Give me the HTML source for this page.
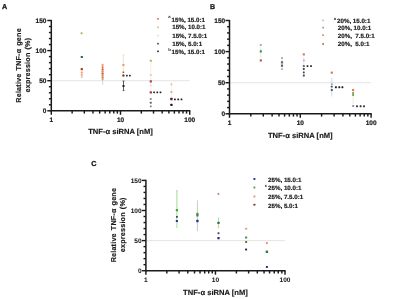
<!DOCTYPE html><html><head><meta charset='utf-8'><style>html,body{margin:0;padding:0;background:#fff;}svg{display:block;will-change:transform;}</style></head><body>
<svg width='400' height='299' viewBox='0 0 400 299' font-family='Liberation Sans, sans-serif' text-rendering='geometricPrecision'>
<rect width='400' height='299' fill='#fff'/>
<text x='2.0' y='9.2' font-size='7.2' font-weight='bold' fill='#1a1a1a' stroke='#1a1a1a' stroke-width='0.3'>A</text>
<text x='209.9' y='8.5' font-size='7.0' font-weight='bold' fill='#1a1a1a' stroke='#1a1a1a' stroke-width='0.3'>B</text>
<text x='91.3' y='165.9' font-size='7.2' font-weight='bold' fill='#1a1a1a' stroke='#1a1a1a' stroke-width='0.3'>C</text>
<line x1='52.3' y1='80.70' x2='189.70' y2='80.70' stroke='#e2e2e2' stroke-width='0.9'/>
<line x1='51.30' y1='19.90' x2='51.30' y2='111.40' stroke='#1a1a1a' stroke-width='1.5'/>
<line x1='47.30' y1='110.80' x2='51.30' y2='110.80' stroke='#1a1a1a' stroke-width='1.45'/>
<line x1='48.90' y1='104.78' x2='51.30' y2='104.78' stroke='#1a1a1a' stroke-width='1.45'/>
<line x1='48.90' y1='98.76' x2='51.30' y2='98.76' stroke='#1a1a1a' stroke-width='1.45'/>
<line x1='48.90' y1='92.74' x2='51.30' y2='92.74' stroke='#1a1a1a' stroke-width='1.45'/>
<line x1='48.90' y1='86.72' x2='51.30' y2='86.72' stroke='#1a1a1a' stroke-width='1.45'/>
<line x1='47.30' y1='80.70' x2='51.30' y2='80.70' stroke='#1a1a1a' stroke-width='1.45'/>
<line x1='48.90' y1='74.68' x2='51.30' y2='74.68' stroke='#1a1a1a' stroke-width='1.45'/>
<line x1='48.90' y1='68.66' x2='51.30' y2='68.66' stroke='#1a1a1a' stroke-width='1.45'/>
<line x1='48.90' y1='62.64' x2='51.30' y2='62.64' stroke='#1a1a1a' stroke-width='1.45'/>
<line x1='48.90' y1='56.62' x2='51.30' y2='56.62' stroke='#1a1a1a' stroke-width='1.45'/>
<line x1='47.30' y1='50.60' x2='51.30' y2='50.60' stroke='#1a1a1a' stroke-width='1.45'/>
<line x1='48.90' y1='44.58' x2='51.30' y2='44.58' stroke='#1a1a1a' stroke-width='1.45'/>
<line x1='48.90' y1='38.56' x2='51.30' y2='38.56' stroke='#1a1a1a' stroke-width='1.45'/>
<line x1='48.90' y1='32.54' x2='51.30' y2='32.54' stroke='#1a1a1a' stroke-width='1.45'/>
<line x1='48.90' y1='26.52' x2='51.30' y2='26.52' stroke='#1a1a1a' stroke-width='1.45'/>
<line x1='47.30' y1='20.50' x2='51.30' y2='20.50' stroke='#1a1a1a' stroke-width='1.45'/>
<text x='46.40' y='113.25' text-anchor='end' font-size='6.5' font-weight='bold' fill='#1a1a1a' stroke='#1a1a1a' stroke-width='0.2'>0</text>
<text x='46.40' y='83.15' text-anchor='end' font-size='6.5' font-weight='bold' fill='#1a1a1a' stroke='#1a1a1a' stroke-width='0.2'>50</text>
<text x='46.40' y='53.05' text-anchor='end' font-size='6.5' font-weight='bold' fill='#1a1a1a' stroke='#1a1a1a' stroke-width='0.2'>100</text>
<text x='46.40' y='22.95' text-anchor='end' font-size='6.5' font-weight='bold' fill='#1a1a1a' stroke='#1a1a1a' stroke-width='0.2'>150</text>
<line x1='50.70' y1='110.80' x2='190.30' y2='110.80' stroke='#1a1a1a' stroke-width='1.5'/>
<line x1='51.30' y1='110.80' x2='51.30' y2='114.80' stroke='#1a1a1a' stroke-width='1.45'/>
<line x1='72.13' y1='110.80' x2='72.13' y2='113.60' stroke='#1a1a1a' stroke-width='1.45'/>
<line x1='84.32' y1='110.80' x2='84.32' y2='113.60' stroke='#1a1a1a' stroke-width='1.45'/>
<line x1='92.96' y1='110.80' x2='92.96' y2='113.60' stroke='#1a1a1a' stroke-width='1.45'/>
<line x1='99.67' y1='110.80' x2='99.67' y2='113.60' stroke='#1a1a1a' stroke-width='1.45'/>
<line x1='105.15' y1='110.80' x2='105.15' y2='113.60' stroke='#1a1a1a' stroke-width='1.45'/>
<line x1='109.78' y1='110.80' x2='109.78' y2='113.60' stroke='#1a1a1a' stroke-width='1.45'/>
<line x1='113.79' y1='110.80' x2='113.79' y2='113.60' stroke='#1a1a1a' stroke-width='1.45'/>
<line x1='117.33' y1='110.80' x2='117.33' y2='113.60' stroke='#1a1a1a' stroke-width='1.45'/>
<line x1='120.50' y1='110.80' x2='120.50' y2='114.80' stroke='#1a1a1a' stroke-width='1.45'/>
<line x1='141.33' y1='110.80' x2='141.33' y2='113.60' stroke='#1a1a1a' stroke-width='1.45'/>
<line x1='153.52' y1='110.80' x2='153.52' y2='113.60' stroke='#1a1a1a' stroke-width='1.45'/>
<line x1='162.16' y1='110.80' x2='162.16' y2='113.60' stroke='#1a1a1a' stroke-width='1.45'/>
<line x1='168.87' y1='110.80' x2='168.87' y2='113.60' stroke='#1a1a1a' stroke-width='1.45'/>
<line x1='174.35' y1='110.80' x2='174.35' y2='113.60' stroke='#1a1a1a' stroke-width='1.45'/>
<line x1='178.98' y1='110.80' x2='178.98' y2='113.60' stroke='#1a1a1a' stroke-width='1.45'/>
<line x1='182.99' y1='110.80' x2='182.99' y2='113.60' stroke='#1a1a1a' stroke-width='1.45'/>
<line x1='186.53' y1='110.80' x2='186.53' y2='113.60' stroke='#1a1a1a' stroke-width='1.45'/>
<line x1='189.70' y1='110.80' x2='189.70' y2='114.80' stroke='#1a1a1a' stroke-width='1.45'/>
<text x='51.30' y='121.90' text-anchor='middle' font-size='6.5' font-weight='bold' fill='#1a1a1a' stroke='#1a1a1a' stroke-width='0.2'>1</text>
<text x='120.50' y='121.90' text-anchor='middle' font-size='6.5' font-weight='bold' fill='#1a1a1a' stroke='#1a1a1a' stroke-width='0.2'>10</text>
<text x='189.70' y='121.90' text-anchor='middle' font-size='6.5' font-weight='bold' fill='#1a1a1a' stroke='#1a1a1a' stroke-width='0.2'>100</text>
<text x='120.50' y='133.90' text-anchor='middle' font-size='7.6' font-weight='bold' fill='#1a1a1a' stroke='#1a1a1a' stroke-width='0.15'>TNF-α siRNA [nM]</text>
<text transform='translate(21.3,65.4) rotate(-90)' text-anchor='middle' font-size='7.2' letter-spacing='0.2' word-spacing='0.8' font-weight='bold' fill='#1a1a1a' stroke='#1a1a1a' stroke-width='0.18'>Relative TNF-α gene</text>
<text transform='translate(30.3,65.1) rotate(-90)' text-anchor='middle' font-size='7.2' letter-spacing='0.2' word-spacing='0.8' font-weight='bold' fill='#1a1a1a' stroke='#1a1a1a' stroke-width='0.18'>expression (%)</text>
<line x1='230.5' y1='82.70' x2='371.10' y2='82.70' stroke='#e2e2e2' stroke-width='0.9'/>
<line x1='229.50' y1='19.90' x2='229.50' y2='114.40' stroke='#1a1a1a' stroke-width='1.5'/>
<line x1='225.50' y1='113.80' x2='229.50' y2='113.80' stroke='#1a1a1a' stroke-width='1.45'/>
<line x1='227.10' y1='107.58' x2='229.50' y2='107.58' stroke='#1a1a1a' stroke-width='1.45'/>
<line x1='227.10' y1='101.36' x2='229.50' y2='101.36' stroke='#1a1a1a' stroke-width='1.45'/>
<line x1='227.10' y1='95.14' x2='229.50' y2='95.14' stroke='#1a1a1a' stroke-width='1.45'/>
<line x1='227.10' y1='88.92' x2='229.50' y2='88.92' stroke='#1a1a1a' stroke-width='1.45'/>
<line x1='225.50' y1='82.70' x2='229.50' y2='82.70' stroke='#1a1a1a' stroke-width='1.45'/>
<line x1='227.10' y1='76.48' x2='229.50' y2='76.48' stroke='#1a1a1a' stroke-width='1.45'/>
<line x1='227.10' y1='70.26' x2='229.50' y2='70.26' stroke='#1a1a1a' stroke-width='1.45'/>
<line x1='227.10' y1='64.04' x2='229.50' y2='64.04' stroke='#1a1a1a' stroke-width='1.45'/>
<line x1='227.10' y1='57.82' x2='229.50' y2='57.82' stroke='#1a1a1a' stroke-width='1.45'/>
<line x1='225.50' y1='51.60' x2='229.50' y2='51.60' stroke='#1a1a1a' stroke-width='1.45'/>
<line x1='227.10' y1='45.38' x2='229.50' y2='45.38' stroke='#1a1a1a' stroke-width='1.45'/>
<line x1='227.10' y1='39.16' x2='229.50' y2='39.16' stroke='#1a1a1a' stroke-width='1.45'/>
<line x1='227.10' y1='32.94' x2='229.50' y2='32.94' stroke='#1a1a1a' stroke-width='1.45'/>
<line x1='227.10' y1='26.72' x2='229.50' y2='26.72' stroke='#1a1a1a' stroke-width='1.45'/>
<line x1='225.50' y1='20.50' x2='229.50' y2='20.50' stroke='#1a1a1a' stroke-width='1.45'/>
<text x='225.20' y='116.25' text-anchor='end' font-size='6.5' font-weight='bold' fill='#1a1a1a' stroke='#1a1a1a' stroke-width='0.2'>0</text>
<text x='225.20' y='85.15' text-anchor='end' font-size='6.5' font-weight='bold' fill='#1a1a1a' stroke='#1a1a1a' stroke-width='0.2'>50</text>
<text x='225.20' y='54.05' text-anchor='end' font-size='6.5' font-weight='bold' fill='#1a1a1a' stroke='#1a1a1a' stroke-width='0.2'>100</text>
<text x='225.20' y='22.95' text-anchor='end' font-size='6.5' font-weight='bold' fill='#1a1a1a' stroke='#1a1a1a' stroke-width='0.2'>150</text>
<line x1='228.90' y1='113.80' x2='371.70' y2='113.80' stroke='#1a1a1a' stroke-width='1.5'/>
<line x1='229.50' y1='113.80' x2='229.50' y2='117.80' stroke='#1a1a1a' stroke-width='1.45'/>
<line x1='250.81' y1='113.80' x2='250.81' y2='116.60' stroke='#1a1a1a' stroke-width='1.45'/>
<line x1='263.28' y1='113.80' x2='263.28' y2='116.60' stroke='#1a1a1a' stroke-width='1.45'/>
<line x1='272.13' y1='113.80' x2='272.13' y2='116.60' stroke='#1a1a1a' stroke-width='1.45'/>
<line x1='278.99' y1='113.80' x2='278.99' y2='116.60' stroke='#1a1a1a' stroke-width='1.45'/>
<line x1='284.59' y1='113.80' x2='284.59' y2='116.60' stroke='#1a1a1a' stroke-width='1.45'/>
<line x1='289.33' y1='113.80' x2='289.33' y2='116.60' stroke='#1a1a1a' stroke-width='1.45'/>
<line x1='293.44' y1='113.80' x2='293.44' y2='116.60' stroke='#1a1a1a' stroke-width='1.45'/>
<line x1='297.06' y1='113.80' x2='297.06' y2='116.60' stroke='#1a1a1a' stroke-width='1.45'/>
<line x1='300.30' y1='113.80' x2='300.30' y2='117.80' stroke='#1a1a1a' stroke-width='1.45'/>
<line x1='321.61' y1='113.80' x2='321.61' y2='116.60' stroke='#1a1a1a' stroke-width='1.45'/>
<line x1='334.08' y1='113.80' x2='334.08' y2='116.60' stroke='#1a1a1a' stroke-width='1.45'/>
<line x1='342.93' y1='113.80' x2='342.93' y2='116.60' stroke='#1a1a1a' stroke-width='1.45'/>
<line x1='349.79' y1='113.80' x2='349.79' y2='116.60' stroke='#1a1a1a' stroke-width='1.45'/>
<line x1='355.39' y1='113.80' x2='355.39' y2='116.60' stroke='#1a1a1a' stroke-width='1.45'/>
<line x1='360.13' y1='113.80' x2='360.13' y2='116.60' stroke='#1a1a1a' stroke-width='1.45'/>
<line x1='364.24' y1='113.80' x2='364.24' y2='116.60' stroke='#1a1a1a' stroke-width='1.45'/>
<line x1='367.86' y1='113.80' x2='367.86' y2='116.60' stroke='#1a1a1a' stroke-width='1.45'/>
<line x1='371.10' y1='113.80' x2='371.10' y2='117.80' stroke='#1a1a1a' stroke-width='1.45'/>
<text x='229.50' y='125.00' text-anchor='middle' font-size='6.5' font-weight='bold' fill='#1a1a1a' stroke='#1a1a1a' stroke-width='0.2'>1</text>
<text x='300.30' y='125.00' text-anchor='middle' font-size='6.5' font-weight='bold' fill='#1a1a1a' stroke='#1a1a1a' stroke-width='0.2'>10</text>
<text x='371.10' y='125.00' text-anchor='middle' font-size='6.5' font-weight='bold' fill='#1a1a1a' stroke='#1a1a1a' stroke-width='0.2'>100</text>
<text x='300.30' y='137.90' text-anchor='middle' font-size='7.6' font-weight='bold' fill='#1a1a1a' stroke='#1a1a1a' stroke-width='0.15'>TNF-α siRNA [nM]</text>
<line x1='146.9' y1='240.60' x2='285.00' y2='240.60' stroke='#e2e2e2' stroke-width='0.9'/>
<line x1='145.90' y1='179.80' x2='145.90' y2='271.30' stroke='#1a1a1a' stroke-width='1.5'/>
<line x1='141.90' y1='270.70' x2='145.90' y2='270.70' stroke='#1a1a1a' stroke-width='1.45'/>
<line x1='143.50' y1='264.68' x2='145.90' y2='264.68' stroke='#1a1a1a' stroke-width='1.45'/>
<line x1='143.50' y1='258.66' x2='145.90' y2='258.66' stroke='#1a1a1a' stroke-width='1.45'/>
<line x1='143.50' y1='252.64' x2='145.90' y2='252.64' stroke='#1a1a1a' stroke-width='1.45'/>
<line x1='143.50' y1='246.62' x2='145.90' y2='246.62' stroke='#1a1a1a' stroke-width='1.45'/>
<line x1='141.90' y1='240.60' x2='145.90' y2='240.60' stroke='#1a1a1a' stroke-width='1.45'/>
<line x1='143.50' y1='234.58' x2='145.90' y2='234.58' stroke='#1a1a1a' stroke-width='1.45'/>
<line x1='143.50' y1='228.56' x2='145.90' y2='228.56' stroke='#1a1a1a' stroke-width='1.45'/>
<line x1='143.50' y1='222.54' x2='145.90' y2='222.54' stroke='#1a1a1a' stroke-width='1.45'/>
<line x1='143.50' y1='216.52' x2='145.90' y2='216.52' stroke='#1a1a1a' stroke-width='1.45'/>
<line x1='141.90' y1='210.50' x2='145.90' y2='210.50' stroke='#1a1a1a' stroke-width='1.45'/>
<line x1='143.50' y1='204.48' x2='145.90' y2='204.48' stroke='#1a1a1a' stroke-width='1.45'/>
<line x1='143.50' y1='198.46' x2='145.90' y2='198.46' stroke='#1a1a1a' stroke-width='1.45'/>
<line x1='143.50' y1='192.44' x2='145.90' y2='192.44' stroke='#1a1a1a' stroke-width='1.45'/>
<line x1='143.50' y1='186.42' x2='145.90' y2='186.42' stroke='#1a1a1a' stroke-width='1.45'/>
<line x1='141.90' y1='180.40' x2='145.90' y2='180.40' stroke='#1a1a1a' stroke-width='1.45'/>
<text x='141.60' y='273.15' text-anchor='end' font-size='6.5' font-weight='bold' fill='#1a1a1a' stroke='#1a1a1a' stroke-width='0.05'>0</text>
<text x='141.60' y='243.05' text-anchor='end' font-size='6.5' font-weight='bold' fill='#1a1a1a' stroke='#1a1a1a' stroke-width='0.05'>50</text>
<text x='141.60' y='212.95' text-anchor='end' font-size='6.5' font-weight='bold' fill='#1a1a1a' stroke='#1a1a1a' stroke-width='0.05'>100</text>
<text x='141.60' y='182.85' text-anchor='end' font-size='6.5' font-weight='bold' fill='#1a1a1a' stroke='#1a1a1a' stroke-width='0.05'>150</text>
<line x1='145.30' y1='270.70' x2='285.60' y2='270.70' stroke='#1a1a1a' stroke-width='1.5'/>
<line x1='145.90' y1='270.70' x2='145.90' y2='274.70' stroke='#1a1a1a' stroke-width='1.45'/>
<line x1='166.84' y1='270.70' x2='166.84' y2='273.50' stroke='#1a1a1a' stroke-width='1.45'/>
<line x1='179.08' y1='270.70' x2='179.08' y2='273.50' stroke='#1a1a1a' stroke-width='1.45'/>
<line x1='187.77' y1='270.70' x2='187.77' y2='273.50' stroke='#1a1a1a' stroke-width='1.45'/>
<line x1='194.51' y1='270.70' x2='194.51' y2='273.50' stroke='#1a1a1a' stroke-width='1.45'/>
<line x1='200.02' y1='270.70' x2='200.02' y2='273.50' stroke='#1a1a1a' stroke-width='1.45'/>
<line x1='204.68' y1='270.70' x2='204.68' y2='273.50' stroke='#1a1a1a' stroke-width='1.45'/>
<line x1='208.71' y1='270.70' x2='208.71' y2='273.50' stroke='#1a1a1a' stroke-width='1.45'/>
<line x1='212.27' y1='270.70' x2='212.27' y2='273.50' stroke='#1a1a1a' stroke-width='1.45'/>
<line x1='215.45' y1='270.70' x2='215.45' y2='274.70' stroke='#1a1a1a' stroke-width='1.45'/>
<line x1='236.39' y1='270.70' x2='236.39' y2='273.50' stroke='#1a1a1a' stroke-width='1.45'/>
<line x1='248.63' y1='270.70' x2='248.63' y2='273.50' stroke='#1a1a1a' stroke-width='1.45'/>
<line x1='257.32' y1='270.70' x2='257.32' y2='273.50' stroke='#1a1a1a' stroke-width='1.45'/>
<line x1='264.06' y1='270.70' x2='264.06' y2='273.50' stroke='#1a1a1a' stroke-width='1.45'/>
<line x1='269.57' y1='270.70' x2='269.57' y2='273.50' stroke='#1a1a1a' stroke-width='1.45'/>
<line x1='274.23' y1='270.70' x2='274.23' y2='273.50' stroke='#1a1a1a' stroke-width='1.45'/>
<line x1='278.26' y1='270.70' x2='278.26' y2='273.50' stroke='#1a1a1a' stroke-width='1.45'/>
<line x1='281.82' y1='270.70' x2='281.82' y2='273.50' stroke='#1a1a1a' stroke-width='1.45'/>
<line x1='285.00' y1='270.70' x2='285.00' y2='274.70' stroke='#1a1a1a' stroke-width='1.45'/>
<text x='145.90' y='282.40' text-anchor='middle' font-size='6.5' font-weight='bold' fill='#1a1a1a' stroke='#1a1a1a' stroke-width='0.05'>1</text>
<text x='215.45' y='282.40' text-anchor='middle' font-size='6.5' font-weight='bold' fill='#1a1a1a' stroke='#1a1a1a' stroke-width='0.05'>10</text>
<text x='285.00' y='282.40' text-anchor='middle' font-size='6.5' font-weight='bold' fill='#1a1a1a' stroke='#1a1a1a' stroke-width='0.05'>100</text>
<text x='215.45' y='294.90' text-anchor='middle' font-size='7.6' font-weight='bold' fill='#1a1a1a' stroke='#1a1a1a' stroke-width='0.15'>TNF-α siRNA [nM]</text>
<text transform='translate(115.5,225.1) rotate(-90)' text-anchor='middle' font-size='7.2' letter-spacing='0.2' word-spacing='0.8' font-weight='bold' fill='#1a1a1a' stroke='#1a1a1a' stroke-width='0.18'>Relative TNF-α gene</text>
<text transform='translate(124.6,224.8) rotate(-90)' text-anchor='middle' font-size='7.2' letter-spacing='0.2' word-spacing='0.8' font-weight='bold' fill='#1a1a1a' stroke='#1a1a1a' stroke-width='0.18'>expression (%)</text>
<line x1='123.40' y1='54.70' x2='123.40' y2='75.50' stroke='#f4dcc8' stroke-width='0.9'/>
<line x1='122.4' y1='54.7' x2='124.4' y2='54.7' stroke='#eed8c8' stroke-width='0.7'/>
<line x1='102.60' y1='63.50' x2='102.60' y2='84.60' stroke='#e8c8b8' stroke-width='0.9'/>
<line x1='150.80' y1='61.00' x2='150.80' y2='84.00' stroke='#f8eadc' stroke-width='0.8'/>
<line x1='171.40' y1='82.00' x2='171.40' y2='100.00' stroke='#f8eadc' stroke-width='0.8'/>
<line x1='123.50' y1='81.00' x2='123.50' y2='90.60' stroke='#1e1e1e' stroke-width='0.7'/>
<line x1='122.5' y1='81' x2='124.5' y2='81' stroke='#222' stroke-width='0.6'/><line x1='122.5' y1='90.6' x2='124.5' y2='90.6' stroke='#222' stroke-width='0.6'/>
<rect x='80.60' y='32.20' width='2.00' height='2.00' rx='0.45' fill='#b4b06c'/>
<rect x='80.70' y='55.90' width='2.20' height='2.20' rx='0.50' fill='#2c5e5c'/>
<rect x='80.70' y='68.00' width='2.20' height='2.20' rx='0.50' fill='#a8382a'/>
<rect x='80.80' y='71.60' width='2.00' height='2.00' rx='0.45' fill='#f0a058'/>
<rect x='80.80' y='74.00' width='2.00' height='2.00' rx='0.45' fill='#f0b088'/>
<rect x='80.80' y='76.00' width='2.00' height='2.00' rx='0.45' fill='#e8cbb8'/>
<rect x='101.60' y='64.00' width='2.00' height='2.00' rx='0.45' fill='#f0a070'/>
<rect x='101.60' y='66.30' width='2.00' height='2.00' rx='0.45' fill='#e87850'/>
<rect x='101.60' y='68.60' width='2.00' height='2.00' rx='0.45' fill='#d85038'/>
<rect x='101.60' y='70.80' width='2.00' height='2.00' rx='0.45' fill='#e88858'/>
<rect x='101.60' y='72.80' width='2.00' height='2.00' rx='0.45' fill='#d85a40'/>
<rect x='101.60' y='74.80' width='2.00' height='2.00' rx='0.45' fill='#e09870'/>
<rect x='101.60' y='76.60' width='2.00' height='2.00' rx='0.45' fill='#c08060'/>
<rect x='101.60' y='78.20' width='2.00' height='2.00' rx='0.45' fill='#d0a888'/>
<rect x='122.30' y='63.90' width='2.20' height='2.20' rx='0.50' fill='#e0a060'/>
<rect x='122.60' y='71.40' width='1.60' height='1.60' rx='0.36' fill='#b04030'/>
<rect x='122.30' y='74.40' width='2.20' height='2.20' rx='0.50' fill='#5a3020'/>
<rect x='126.05' y='74.75' width='1.70' height='1.70' rx='0.38' fill='#1e1e1e'/>
<rect x='129.05' y='74.75' width='1.70' height='1.70' rx='0.38' fill='#1e1e1e'/>
<rect x='122.50' y='85.10' width='2.00' height='2.00' rx='0.45' fill='#1e1e1e'/>
<rect x='149.90' y='59.70' width='2.00' height='2.00' rx='0.45' fill='#b8a878'/>
<rect x='149.90' y='74.20' width='1.80' height='1.80' rx='0.41' fill='#e0c0b8'/>
<rect x='149.70' y='80.30' width='2.20' height='2.20' rx='0.50' fill='#9a4a38'/>
<rect x='150.00' y='84.70' width='1.60' height='1.60' rx='0.36' fill='#f0c0c8'/>
<rect x='149.65' y='91.15' width='2.30' height='2.30' rx='0.52' fill='#c02838'/>
<rect x='153.20' y='91.40' width='1.80' height='1.80' rx='0.41' fill='#202830'/>
<rect x='156.40' y='91.40' width='1.80' height='1.80' rx='0.41' fill='#202830'/>
<rect x='159.60' y='91.40' width='1.80' height='1.80' rx='0.41' fill='#202830'/>
<rect x='149.90' y='98.10' width='1.80' height='1.80' rx='0.41' fill='#8a8a8a'/>
<rect x='149.80' y='101.80' width='2.00' height='2.00' rx='0.45' fill='#6a6a6a'/>
<rect x='149.90' y='105.40' width='1.80' height='1.80' rx='0.41' fill='#808080'/>
<rect x='170.50' y='83.50' width='1.80' height='1.80' rx='0.41' fill='#d8c0b0'/>
<rect x='170.40' y='91.00' width='2.00' height='2.00' rx='0.45' fill='#d8b0a0'/>
<rect x='170.25' y='97.85' width='2.30' height='2.30' rx='0.52' fill='#502028'/>
<rect x='174.00' y='98.50' width='1.80' height='1.80' rx='0.41' fill='#202020'/>
<rect x='177.30' y='98.50' width='1.80' height='1.80' rx='0.41' fill='#202020'/>
<rect x='180.60' y='98.50' width='1.80' height='1.80' rx='0.41' fill='#202020'/>
<rect x='170.30' y='103.70' width='2.20' height='2.20' rx='0.50' fill='#1e1e1e'/>
<line x1='260.80' y1='47.00' x2='260.80' y2='58.00' stroke='#c8e8d0' stroke-width='0.7'/>
<rect x='259.80' y='44.00' width='2.00' height='2.00' rx='0.45' fill='#a0acb8'/>
<rect x='259.70' y='50.20' width='2.20' height='2.20' rx='0.50' fill='#4a8a70'/>
<rect x='259.65' y='59.15' width='2.30' height='2.30' rx='0.52' fill='#b06a50'/>
<line x1='282.00' y1='57.00' x2='282.00' y2='69.50' stroke='#d0d8e0' stroke-width='0.7'/>
<rect x='281.00' y='56.90' width='2.00' height='2.00' rx='0.45' fill='#a8b0c0'/>
<rect x='280.90' y='61.30' width='2.20' height='2.20' rx='0.50' fill='#5a6a60'/>
<rect x='280.90' y='64.50' width='2.20' height='2.20' rx='0.50' fill='#606068'/>
<rect x='281.10' y='68.30' width='1.80' height='1.80' rx='0.41' fill='#a8a8b0'/>
<line x1='303.80' y1='57.00' x2='303.80' y2='78.00' stroke='#d8dcf0' stroke-width='0.7'/>
<rect x='302.70' y='53.30' width='2.20' height='2.20' rx='0.50' fill='#d88050'/>
<rect x='302.90' y='59.50' width='1.80' height='1.80' rx='0.41' fill='#b8a8d0'/>
<rect x='302.80' y='65.10' width='2.00' height='2.00' rx='0.45' fill='#606880'/>
<rect x='306.60' y='65.20' width='1.80' height='1.80' rx='0.41' fill='#1e1e1e'/>
<rect x='310.10' y='65.20' width='1.80' height='1.80' rx='0.41' fill='#1e1e1e'/>
<rect x='302.90' y='68.10' width='1.80' height='1.80' rx='0.41' fill='#404050'/>
<rect x='302.90' y='71.50' width='1.80' height='1.80' rx='0.41' fill='#404050'/>
<rect x='302.80' y='74.50' width='2.00' height='2.00' rx='0.45' fill='#604040'/>
<line x1='331.80' y1='77.70' x2='331.80' y2='96.40' stroke='#c8d4ec' stroke-width='0.9'/>
<rect x='330.70' y='71.60' width='2.20' height='2.20' rx='0.50' fill='#c88060'/>
<rect x='330.90' y='83.30' width='1.80' height='1.80' rx='0.41' fill='#a0a8b8'/>
<rect x='330.90' y='85.80' width='1.80' height='1.80' rx='0.41' fill='#505868'/>
<rect x='334.95' y='86.35' width='1.90' height='1.90' rx='0.43' fill='#1e1e1e'/>
<rect x='338.35' y='86.35' width='1.90' height='1.90' rx='0.43' fill='#1e1e1e'/>
<rect x='341.45' y='86.35' width='1.90' height='1.90' rx='0.43' fill='#1e1e1e'/>
<rect x='330.80' y='89.10' width='2.00' height='2.00' rx='0.45' fill='#505868'/>
<line x1='353.10' y1='88.00' x2='353.10' y2='104.00' stroke='#e0f0c8' stroke-width='0.8'/>
<rect x='352.00' y='88.90' width='2.20' height='2.20' rx='0.50' fill='#e07850'/>
<rect x='352.10' y='92.00' width='2.00' height='2.00' rx='0.45' fill='#a09050'/>
<rect x='352.15' y='94.05' width='1.90' height='1.90' rx='0.43' fill='#70a060'/>
<rect x='352.10' y='105.00' width='2.00' height='2.00' rx='0.45' fill='#8090b8'/>
<rect x='356.05' y='105.25' width='1.90' height='1.90' rx='0.43' fill='#303040'/>
<rect x='359.65' y='105.25' width='1.90' height='1.90' rx='0.43' fill='#303040'/>
<rect x='363.05' y='105.25' width='1.90' height='1.90' rx='0.43' fill='#303040'/>
<line x1='176.90' y1='190.00' x2='176.90' y2='228.00' stroke='#98d888' stroke-width='0.9'/>
<line x1='175.9' y1='190.9' x2='177.9' y2='190.9' stroke='#c0d8c0' stroke-width='0.6'/>
<rect x='175.80' y='209.00' width='2.20' height='2.20' rx='0.50' fill='#40a030'/>
<rect x='176.00' y='215.90' width='1.80' height='1.80' rx='0.41' fill='#303060'/>
<rect x='175.80' y='219.90' width='2.20' height='2.20' rx='0.50' fill='#2030a0'/>
<line x1='197.40' y1='200.30' x2='197.40' y2='231.10' stroke='#b8ccb0' stroke-width='0.9'/>
<rect x='196.30' y='212.70' width='2.20' height='2.20' rx='0.50' fill='#50a040'/>
<rect x='196.30' y='214.30' width='2.20' height='2.20' rx='0.50' fill='#408040'/>
<rect x='196.25' y='219.85' width='2.30' height='2.30' rx='0.52' fill='#283898'/>
<rect x='217.50' y='193.10' width='1.80' height='1.80' rx='0.41' fill='#c09080'/>
<line x1='218.50' y1='217.60' x2='218.50' y2='227.50' stroke='#90d890' stroke-width='0.8'/>
<rect x='217.40' y='221.80' width='2.20' height='2.20' rx='0.50' fill='#307040'/>
<rect x='217.70' y='226.70' width='1.60' height='1.60' rx='0.36' fill='#e0d0b0'/>
<rect x='217.50' y='232.20' width='2.00' height='2.00' rx='0.45' fill='#505050'/>
<rect x='217.40' y='237.00' width='2.20' height='2.20' rx='0.50' fill='#202878'/>
<rect x='245.10' y='227.80' width='2.00' height='2.00' rx='0.45' fill='#e0a080'/>
<rect x='245.00' y='236.40' width='2.20' height='2.20' rx='0.50' fill='#409050'/>
<rect x='245.10' y='241.00' width='2.00' height='2.00' rx='0.45' fill='#606040'/>
<rect x='245.10' y='248.50' width='2.00' height='2.00' rx='0.45' fill='#202060'/>
<rect x='265.90' y='242.10' width='2.00' height='2.00' rx='0.45' fill='#e09078'/>
<rect x='265.70' y='250.60' width='2.40' height='2.40' rx='0.54' fill='#308040'/>
<rect x='265.90' y='265.90' width='2.00' height='2.00' rx='0.45' fill='#202878'/>
<rect x='157.15' y='17.95' width='1.70' height='1.70' rx='0.38' fill='#e06a50'/>
<text transform='translate(168.30,18.40) scale(0.1)' font-size='42' font-weight='bold' fill='#1a1a1a'>a</text>
<text x='171.60' y='21.50' font-size='6.2' font-weight='bold' fill='#1a1a1a' stroke='#1a1a1a' stroke-width='0.18' xml:space='preserve'>15%, 15.0:1</text>
<rect x='157.15' y='26.45' width='1.70' height='1.70' rx='0.38' fill='#eab088'/>
<text x='172.20' y='29.40' font-size='6.2' font-weight='bold' fill='#1a1a1a' stroke='#1a1a1a' stroke-width='0.18' xml:space='preserve'>15%, 10.0:1</text>
<rect x='157.15' y='34.75' width='1.70' height='1.70' rx='0.38' fill='#efd4bc'/>
<text x='172.20' y='37.60' font-size='6.2' font-weight='bold' fill='#1a1a1a' stroke='#1a1a1a' stroke-width='0.18' xml:space='preserve'>15%, 7.5.0:1</text>
<rect x='157.15' y='42.85' width='1.70' height='1.70' rx='0.38' fill='#3a5a50'/>
<text x='172.20' y='45.70' font-size='6.2' font-weight='bold' fill='#1a1a1a' stroke='#1a1a1a' stroke-width='0.18' xml:space='preserve'>15%, 5.0:1</text>
<rect x='157.15' y='50.45' width='1.70' height='1.70' rx='0.38' fill='#303030'/>
<text transform='translate(168.30,50.50) scale(0.1)' font-size='42' font-weight='bold' fill='#1a1a1a'>b</text>
<text x='171.60' y='53.60' font-size='6.2' font-weight='bold' fill='#1a1a1a' stroke='#1a1a1a' stroke-width='0.18' xml:space='preserve'>15%, 15.0:1</text>
<rect x='322.25' y='19.55' width='1.70' height='1.70' rx='0.38' fill='#b0bccc'/>
<text transform='translate(333.70,19.70) scale(0.1)' font-size='42' font-weight='bold' fill='#1a1a1a'>a</text>
<text x='337.00' y='22.80' font-size='6.2' font-weight='bold' fill='#1a1a1a' stroke='#1a1a1a' stroke-width='0.18' xml:space='preserve'>20%, 15.0:1</text>
<rect x='322.25' y='26.75' width='1.70' height='1.70' rx='0.38' fill='#70a890'/>
<text x='337.80' y='30.00' font-size='6.2' font-weight='bold' fill='#1a1a1a' stroke='#1a1a1a' stroke-width='0.18' xml:space='preserve'>20%, 10.0:1</text>
<rect x='322.25' y='34.35' width='1.70' height='1.70' rx='0.38' fill='#d08060'/>
<text x='337.80' y='37.70' font-size='6.2' font-weight='bold' fill='#1a1a1a' stroke='#1a1a1a' stroke-width='0.18' xml:space='preserve'>20%,  7.5.0:1</text>
<rect x='322.25' y='43.15' width='1.70' height='1.70' rx='0.38' fill='#705850'/>
<text x='337.80' y='46.40' font-size='6.2' font-weight='bold' fill='#1a1a1a' stroke='#1a1a1a' stroke-width='0.18' xml:space='preserve'>20%,  5.0:1</text>
<rect x='253.40' y='178.10' width='2.00' height='2.00' rx='0.45' fill='#2838b8'/>
<text x='268.10' y='182.00' font-size='6.2' font-weight='bold' fill='#1a1a1a' stroke='#1a1a1a' stroke-width='0.18' xml:space='preserve'>25%, 15.0:1</text>
<rect x='253.40' y='186.50' width='2.00' height='2.00' rx='0.45' fill='#40b040'/>
<text transform='translate(264.80,187.30) scale(0.1)' font-size='42' font-weight='bold' fill='#1a1a1a'>c</text>
<text x='268.10' y='190.40' font-size='6.2' font-weight='bold' fill='#1a1a1a' stroke='#1a1a1a' stroke-width='0.18' xml:space='preserve'>25%, 10.0:1</text>
<rect x='253.40' y='195.40' width='2.00' height='2.00' rx='0.45' fill='#e89868'/>
<text x='268.10' y='199.30' font-size='6.2' font-weight='bold' fill='#1a1a1a' stroke='#1a1a1a' stroke-width='0.18' xml:space='preserve'>25%, 7.5.0:1</text>
<rect x='253.40' y='203.80' width='2.00' height='2.00' rx='0.45' fill='#904830'/>
<text x='268.10' y='207.70' font-size='6.2' font-weight='bold' fill='#1a1a1a' stroke='#1a1a1a' stroke-width='0.18' xml:space='preserve'>25%, 5.0:1</text>
</svg></body></html>
